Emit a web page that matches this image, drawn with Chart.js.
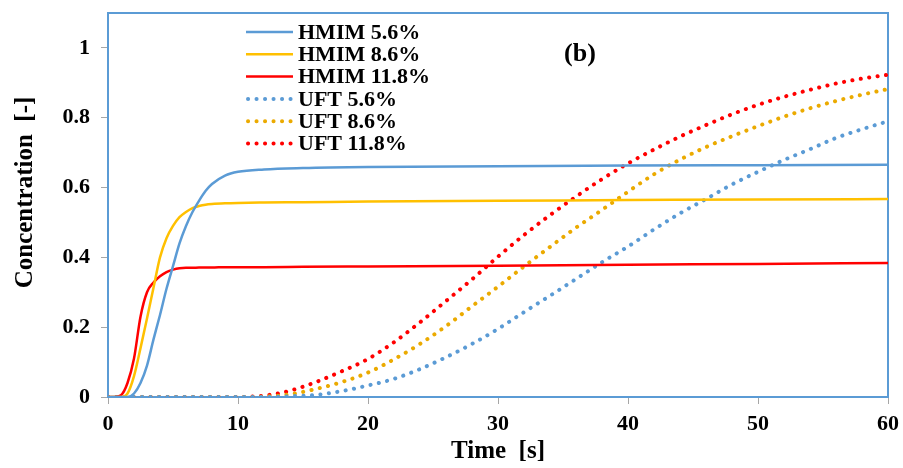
<!DOCTYPE html>
<html>
<head>
<meta charset="utf-8">
<title>Concentration vs time</title>
<script src="https://cdn.jsdelivr.net/npm/chart.js@4/dist/chart.umd.min.js"></script>
<style>
  html, body { margin: 0; padding: 0; background: #fff; }
</style>
</head>
<body>
<canvas id="conc-chart" width="903" height="468"></canvas>
<script>
// time grids (s)
const hmimTime = [0, 0.5, 1, 1.5, 2, 2.5, 3, 3.5, 4, 4.5, 5, 5.5, 6, 6.5, 7, 7.5, 8, 9, 10, 12, 15, 20, 30, 40, 50, 60];
const uftTime = [0, 10, 12, 14, 16, 18, 20, 22, 24, 26, 28, 30, 32, 34, 36, 38, 40, 42, 44, 46, 48, 50, 52, 54, 56, 58, 60];

// HMIM model
const hmim56 = [0, 0, 0, 0, 0.01, 0.04, 0.09, 0.165, 0.235, 0.31, 0.375, 0.44, 0.49, 0.53, 0.562, 0.59, 0.61, 0.634, 0.645, 0.652, 0.656, 0.659, 0.661, 0.663, 0.664, 0.665];
const hmim86 = [0, 0, 0, 0.01, 0.06, 0.14, 0.225, 0.313, 0.4, 0.455, 0.49, 0.515, 0.53, 0.541, 0.547, 0.551, 0.553, 0.555, 0.556, 0.557, 0.558, 0.56, 0.562, 0.564, 0.566, 0.567];
const hmim118 = [0, 0, 0.005, 0.04, 0.11, 0.23, 0.3, 0.328, 0.346, 0.358, 0.365, 0.369, 0.37, 0.37, 0.371, 0.371, 0.371, 0.372, 0.372, 0.372, 0.373, 0.374, 0.376, 0.379, 0.381, 0.384];

// UFT model
const uft56 = [0, 0, 0, 0.002, 0.006, 0.017, 0.033, 0.052, 0.08, 0.114, 0.152, 0.195, 0.243, 0.29, 0.338, 0.386, 0.431, 0.48, 0.526, 0.567, 0.609, 0.645, 0.679, 0.71, 0.742, 0.767, 0.79];
const uft86 = [0, 0, 0.001, 0.008, 0.023, 0.043, 0.07, 0.108, 0.152, 0.203, 0.26, 0.316, 0.374, 0.43, 0.485, 0.536, 0.588, 0.638, 0.68, 0.716, 0.747, 0.776, 0.803, 0.827, 0.848, 0.866, 0.882];
const uft118 = [0, 0, 0.004, 0.018, 0.043, 0.074, 0.109, 0.157, 0.214, 0.275, 0.337, 0.402, 0.464, 0.521, 0.574, 0.624, 0.669, 0.709, 0.746, 0.779, 0.81, 0.837, 0.86, 0.88, 0.898, 0.912, 0.923];

const seriesNames = ["HMIM 5.6%", "HMIM 8.6%", "HMIM 11.8%", "UFT 5.6%", "UFT 8.6%", "UFT 11.8%"];
const xTicks = [0, 10, 20, 30, 40, 50, 60];
const yTicks = [0, 0.2, 0.4, 0.6, 0.8, 1];

const BLUE = "#5B9BD5";
const GOLD = "#FFC000";
const DARK_GOLD = "#EBAA00";
const RED = "#FF0000";
const SERIF = "'Liberation Serif', 'Times New Roman', serif";

function pairs(times, values) {
  return times.map((t, i) => ({ x: t, y: values[i] }));
}

function solid(label, color, times, values) {
  return {
    label,
    data: pairs(times, values),
    borderColor: color,
    borderWidth: 2.5,
    pointRadius: 0,
    cubicInterpolationMode: "monotone",
  };
}

function dotted(label, color, times, values) {
  return {
    label,
    data: pairs(times, values),
    borderColor: color,
    borderWidth: 4,
    borderDash: [0.1, 8.4],
    borderCapStyle: "round",
    pointRadius: 0,
    cubicInterpolationMode: "monotone",
  };
}

// blue box around the plot area, drawn under the curves
const framePlugin = {
  id: "frame",
  beforeDatasetsDraw(chart) {
    const { ctx, chartArea: a } = chart;
    ctx.save();
    ctx.strokeStyle = BLUE;
    ctx.lineWidth = 2;
    ctx.strokeRect(a.left, a.top, a.right - a.left, a.bottom - a.top);
    ctx.restore();
  },
};

// legend stacked inside the plot plus the "(b)" panel tag
const insideLegend = {
  id: "insideLegend",
  afterDatasetsDraw(chart) {
    const ctx = chart.ctx;
    const x0 = 246, x1 = 293, textX = 298, top = 32, step = 22.3;
    ctx.save();
    chart.data.datasets.forEach((ds, i) => {
      const y = top + i * step;
      ctx.beginPath();
      ctx.strokeStyle = ds.borderColor;
      ctx.lineWidth = ds.borderWidth;
      ctx.lineCap = ds.borderDash ? "round" : "butt";
      ctx.setLineDash(ds.borderDash || []);
      ctx.moveTo(x0 + (ds.borderDash ? 2 : 0), y);
      ctx.lineTo(x1, y);
      ctx.stroke();
      ctx.setLineDash([]);
      ctx.fillStyle = "#000";
      ctx.font = "bold 22px " + SERIF;
      ctx.textAlign = "left";
      ctx.textBaseline = "middle";
      ctx.fillText(ds.label, textX, y + 1);
    });
    ctx.font = "bold 26px " + SERIF;
    ctx.textAlign = "center";
    ctx.fillText("(b)", 580, 54);
    ctx.restore();
  },
};

const tickFont = { family: SERIF, size: 22, weight: "bold" };
const titleFont = { family: SERIF, size: 25, weight: "bold" };

new Chart(document.getElementById("conc-chart"), {
  type: "line",
  data: {
    datasets: [
      solid(seriesNames[0], BLUE, hmimTime, hmim56),
      solid(seriesNames[1], GOLD, hmimTime, hmim86),
      solid(seriesNames[2], RED, hmimTime, hmim118),
      dotted(seriesNames[3], BLUE, uftTime, uft56),
      dotted(seriesNames[4], DARK_GOLD, uftTime, uft86),
      dotted(seriesNames[5], RED, uftTime, uft118),
    ],
  },
  options: {
    responsive: false,
    animation: false,
    layout: { padding: { top: 13, right: 15, left: 0, bottom: 0 } },
    scales: {
      x: {
        type: "linear",
        min: 0,
        max: 60,
        afterBuildTicks: (scale) => { scale.ticks = xTicks.map((v) => ({ value: v })); },
        afterFit: (scale) => {
          scale.height = 71;
          scale.paddingLeft = 0;
          scale.paddingRight = 0;
        },
        border: { display: false },
        grid: { drawOnChartArea: false, drawTicks: true, tickLength: 7, color: "#A6A6A6" },
        ticks: { font: tickFont, color: "#000", padding: 7, maxRotation: 0 },
        title: { display: true, text: "Time  [s]", font: titleFont, color: "#000", padding: 1 },
      },
      y: {
        min: 0,
        max: 1.1,
        afterBuildTicks: (scale) => { scale.ticks = yTicks.map((v) => ({ value: v })); },
        afterFit: (scale) => {
          scale.width = 108;
          scale.paddingTop = 0;
          scale.paddingBottom = 0;
        },
        border: { display: false },
        grid: { drawOnChartArea: false, drawTicks: true, tickLength: 7, color: "#A6A6A6" },
        ticks: { font: tickFont, color: "#000", padding: 11, callback: (v) => String(v) },
        // leading spaces nudge the rotated title up a little
        title: { display: true, text: "    Concentration  [-]", font: titleFont, color: "#000", padding: 11 },
      },
    },
    plugins: {
      legend: { display: false },
      tooltip: { enabled: false },
    },
  },
  plugins: [framePlugin, insideLegend],
});
</script>
</body>
</html>
